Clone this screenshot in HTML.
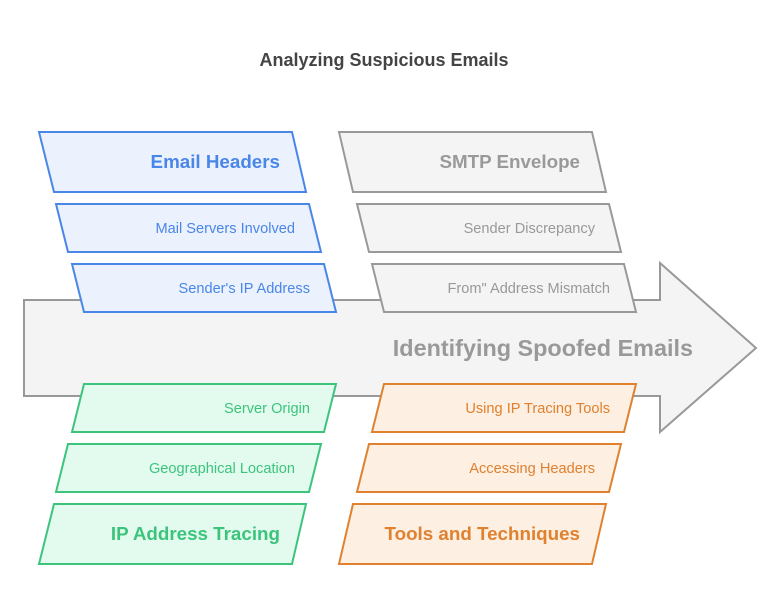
<!DOCTYPE html>
<html><head><meta charset="utf-8"><style>html,body{margin:0;padding:0;background:#fff}svg{display:block}</style></head>
<body>
<svg width="780" height="612" xmlns="http://www.w3.org/2000/svg" font-family="Liberation Sans, sans-serif">
<rect width="780" height="612" fill="#fff"/>
<text x="384" y="66" text-anchor="middle" font-size="18" font-weight="bold" fill="#444">Analyzing Suspicious Emails</text>
<polygon points="24,300 660,300 660,263 756,348 660,432 660,396 24,396" fill="#f4f4f4" stroke="#999" stroke-width="2"/>
<text x="693" y="356" text-anchor="end" font-size="23.4" font-weight="bold" fill="#999">Identifying Spoofed Emails</text>
<g stroke-width="2">
<g fill="#ebf2fe" stroke="#4a86e8">
<polygon points="39,132 292,132 306,192 54,192"/>
<polygon points="56,204 309,204 321,252 68,252"/>
<polygon points="72,264 324,264 336,312 84,312"/>
</g>
<g fill="#f4f4f4" stroke="#999">
<polygon points="339,132 592,132 606,192 353,192"/>
<polygon points="357,204 609,204 621,252 369,252"/>
<polygon points="372,264 624,264 636,312 384,312"/>
</g>
<g fill="#e3fbef" stroke="#3cc47c">
<polygon points="84,384 336,384 324,432 72,432"/>
<polygon points="68,444 321,444 309,492 56,492"/>
<polygon points="54,504 306,504 292,564 39,564"/>
</g>
<g fill="#fdefe2" stroke="#e0812f">
<polygon points="384,384 636,384 624,432 372,432"/>
<polygon points="369,444 621,444 609,492 357,492"/>
<polygon points="353,504 606,504 592,564 339,564"/>
</g>
</g>
<g text-anchor="end">
<text x="280" y="168" font-size="18.8" font-weight="bold" fill="#4a86e8">Email Headers</text>
<text x="295" y="233" font-size="14.6" fill="#4a86e8">Mail Servers Involved</text>
<text x="310" y="293" font-size="14.6" fill="#4a86e8">Sender's IP Address</text>
<text x="580" y="168" font-size="18.8" font-weight="bold" fill="#999">SMTP Envelope</text>
<text x="595" y="233" font-size="14.6" fill="#999">Sender Discrepancy</text>
<text x="610" y="293" font-size="14.6" fill="#999">From" Address Mismatch</text>
<text x="310" y="413" font-size="14.6" fill="#3cc47c">Server Origin</text>
<text x="295" y="473" font-size="14.6" fill="#3cc47c">Geographical Location</text>
<text x="280" y="540" font-size="18.8" font-weight="bold" fill="#3cc47c">IP Address Tracing</text>
<text x="610" y="413" font-size="14.6" fill="#e0812f">Using IP Tracing Tools</text>
<text x="595" y="473" font-size="14.6" fill="#e0812f">Accessing Headers</text>
<text x="580" y="540" font-size="18.8" font-weight="bold" fill="#e0812f">Tools and Techniques</text>
</g>
</svg>
</body></html>
